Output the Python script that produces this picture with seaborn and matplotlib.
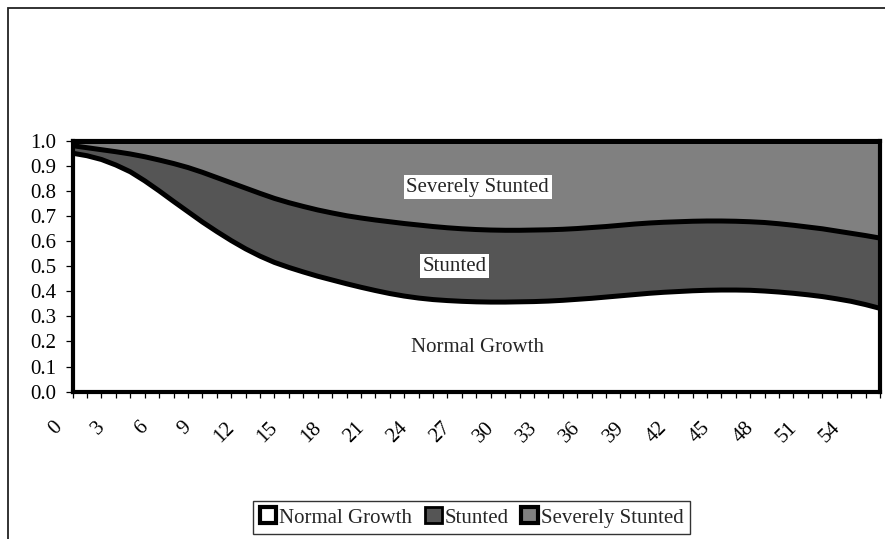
import pandas as pd
import seaborn as sns
import matplotlib.pyplot as plt
import matplotlib.transforms as mtransforms
from matplotlib.patches import Patch, Rectangle

# age in months and share of children in each growth group
months = list(range(0, 57))
normal = [0.950, 0.940, 0.925, 0.903, 0.876, 0.840, 0.800, 0.758, 0.717, 0.676,
          0.638, 0.602, 0.569, 0.540, 0.515, 0.495, 0.477, 0.460, 0.445, 0.430,
          0.416, 0.403, 0.391, 0.381, 0.373, 0.367, 0.363, 0.360, 0.358, 0.357,
          0.357, 0.358, 0.359, 0.361, 0.364, 0.368, 0.372, 0.377, 0.382, 0.387,
          0.392, 0.396, 0.399, 0.402, 0.404, 0.405, 0.405, 0.404, 0.401, 0.397,
          0.392, 0.386, 0.379, 0.370, 0.360, 0.347, 0.332]
stunted = [0.030, 0.032, 0.039, 0.053, 0.071, 0.096, 0.123, 0.151, 0.176, 0.198,
           0.215, 0.230, 0.242, 0.250, 0.255, 0.258, 0.261, 0.264, 0.267, 0.271,
           0.276, 0.281, 0.286, 0.289, 0.291, 0.291, 0.290, 0.289, 0.288, 0.287,
           0.286, 0.285, 0.285, 0.284, 0.283, 0.282, 0.282, 0.281, 0.281, 0.281,
           0.280, 0.279, 0.278, 0.277, 0.276, 0.275, 0.274, 0.273, 0.273, 0.272,
           0.271, 0.270, 0.270, 0.270, 0.271, 0.275, 0.280]
severe = [0.020, 0.028, 0.036, 0.044, 0.053, 0.064, 0.077, 0.091, 0.107, 0.126,
          0.147, 0.168, 0.189, 0.210, 0.230, 0.247, 0.262, 0.276, 0.288, 0.299,
          0.308, 0.316, 0.323, 0.330, 0.336, 0.342, 0.347, 0.351, 0.354, 0.356,
          0.357, 0.357, 0.356, 0.355, 0.353, 0.350, 0.346, 0.342, 0.337, 0.332,
          0.328, 0.325, 0.323, 0.321, 0.320, 0.320, 0.321, 0.323, 0.326, 0.331,
          0.337, 0.344, 0.351, 0.360, 0.369, 0.378, 0.388]

sns.set_theme(style='white')
plt.rcParams['font.family'] = ['Liberation Serif', 'DejaVu Serif']
FS = 15

df = pd.DataFrame({'month': months, 'Normal Growth': normal,
                   'Stunted': stunted, 'Severely Stunted': severe})
df['lower'] = df['Normal Growth']
df['upper'] = df['lower'] + df['Stunted']
df['top'] = df['upper'] + df['Severely Stunted']

fig = plt.figure(figsize=(8.85, 5.39), dpi=100)
ax = fig.add_axes([0.0821, 0.2733, 0.9122, 0.4657])

ax.fill_between(df['month'], 0, df['lower'], color='white', lw=0)
ax.fill_between(df['month'], df['lower'], df['upper'], color='#555555', lw=0)
ax.fill_between(df['month'], df['upper'], df['top'], color='#808080', lw=0)
for col in ['lower', 'upper', 'top']:
    sns.lineplot(data=df, x='month', y=col, color='black', lw=3.6, ax=ax,
                 clip_on=False, solid_capstyle='butt', solid_joinstyle='round')

ax.set_xlim(0, 56)
ax.set_ylim(0, 1.0)
ax.set_xlabel('')
ax.set_ylabel('')
for s in ax.spines.values():
    s.set_linewidth(3.0)
    s.set_color('black')

ax.set_yticks([i / 10 for i in range(11)])
ax.set_yticklabels([f'{i / 10:.1f}' for i in range(11)], fontsize=FS)
ax.set_xticks(range(0, 57))
ax.set_xticklabels([str(m) if (m % 3 == 0 and m <= 54) else '' for m in range(0, 57)],
                   fontsize=FS, rotation=45, ha='right', va='top')
ax.tick_params(axis='y', left=True, direction='out', length=5, width=0.9, pad=7, colors='black')
ax.tick_params(axis='x', bottom=True, direction='out', length=4, width=0.9, pad=15, colors='black')
off = mtransforms.ScaledTranslation(-0.07, 0, fig.dpi_scale_trans)
for lab in ax.get_xticklabels():
    lab.set_transform(lab.get_transform() + off)

ax.text(28.1, 0.815, 'Severely Stunted', ha='center', va='center', fontsize=FS,
        bbox=dict(facecolor='white', edgecolor='none', pad=2.0))
ax.text(26.5, 0.50, 'Stunted', ha='center', va='center', fontsize=FS,
        bbox=dict(facecolor='white', edgecolor='none', pad=2.0))
ax.text(28.1, 0.178, 'Normal Growth', ha='center', va='center', fontsize=FS)

handles = [Patch(facecolor='white', edgecolor='black', lw=3),
           Patch(facecolor='#555555', edgecolor='black', lw=2),
           Patch(facecolor='#808080', edgecolor='black', lw=3)]
leg = fig.legend(handles, ['Normal Growth', 'Stunted', 'Severely Stunted'],
                 loc='center', bbox_to_anchor=(0.533, 0.04), ncol=3, fontsize=FS,
                 frameon=True, fancybox=False, edgecolor='black', handlelength=0.8,
                 handleheight=0.8, handletextpad=0.15, columnspacing=0.6, borderpad=0.3)
leg.get_frame().set_linewidth(1.0)

# chart area border (runs off the right and bottom of the picture)
fig.add_artist(Rectangle((8 / 885, -0.05), 1.0, 1 - 8 / 539 + 0.05, transform=fig.transFigure,
                         fill=False, edgecolor='#222222', lw=1.3))

plt.savefig('out.png', dpi=100)
